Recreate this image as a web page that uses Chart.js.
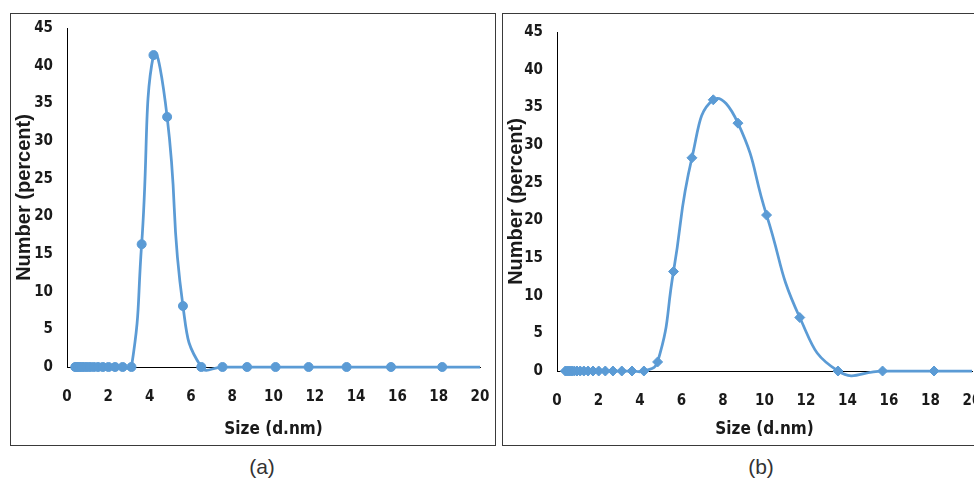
<!DOCTYPE html>
<html>
<head>
<meta charset="utf-8">
<script src="https://cdn.jsdelivr.net/npm/chart.js@4"></script>
<style>
html, body { margin: 0; padding: 0; background: #fff; overflow: hidden; width: 974px; height: 483px; }
.box { position: absolute; top: 13px; width: 484px; height: 431px; border: 1px solid #3a3a3a; }
#boxA { left: 10px; }
#boxB { left: 502px; }
.cap { position: absolute; top: 455px; width: 60px; text-align: center; font: 21px "Liberation Sans", Arial, sans-serif; color: #333; }
</style>
</head>
<body>
<div class="box" id="boxA"><canvas id="chartA" width="484" height="431"></canvas></div>
<div class="box" id="boxB"><canvas id="chartB" width="484" height="431"></canvas></div>
<div class="cap" style="left:232px">(a)</div>
<div class="cap" style="left:731px">(b)</div>
<script>
// size bins (d.nm)
var sizes = [0.4, 0.4632, 0.5365, 0.6213, 0.7195, 0.8332, 0.9649, 1.117, 1.294, 1.499,
  1.736, 2.01, 2.328, 2.696, 3.122, 3.615, 4.187, 4.849, 5.615, 6.503,
  7.531, 8.721, 10.1, 11.7, 13.54, 15.69, 18.17, 21.04];

// number (percent)
var numberA = [0, 0, 0, 0, 0, 0, 0, 0, 0, 0,
  0, 0, 0, 0, 0, 16.3, 41.4, 33.2, 8.1, 0,
  0, 0, 0, 0, 0, 0, 0, 0];
var numberB = [0, 0, 0, 0, 0, 0, 0, 0, 0, 0,
  0, 0, 0, 0, 0, 0, 0, 1.2, 13.2, 28.3,
  36.0, 32.9, 20.7, 7.1, 0, 0, 0, 0];

var xTicks = [0, 2, 4, 6, 8, 10, 12, 14, 16, 18, 20];
var yTicks = [0, 5, 10, 15, 20, 25, 30, 35, 40, 45];

var blue = '#5B9BD5';
var narrow = '"DejaVu Sans", sans-serif';
var tickFont = { family: narrow, size: 15, weight: 'bold condensed' };

function makeChart(id, values, marker, radius, yWidth, xHeight, topPad) {
  var pts = sizes.map(function(s, i) { return { x: s, y: values[i] }; });
  return new Chart(document.getElementById(id).getContext('2d'), {
    type: 'line',
    data: {
      datasets: [{
        data: pts,
        borderColor: blue,
        backgroundColor: blue,
        borderWidth: 2.75,
        pointStyle: marker,
        pointRadius: radius,
        pointBorderWidth: 1,
        pointBorderColor: blue,
        pointBackgroundColor: blue,
        tension: 0.5,
        capBezierPoints: false,
        clip: { left: 10, top: 10, right: 0, bottom: 10 }
      }]
    },
    options: {
      responsive: false,
      animation: false,
      layout: { padding: { top: topPad, right: 15, left: 0, bottom: 0 } },
      plugins: { legend: { display: false }, tooltip: { enabled: false } },
      scales: {
        x: {
          type: 'linear',
          min: 0, max: 20,
          afterBuildTicks: function(s) { s.ticks = xTicks.map(function(v) { return { value: v }; }); },
          afterFit: function(s) { s.height = xHeight; s.paddingLeft = 0; s.paddingRight = 0; },
          grid: { display: false, drawTicks: false },
          border: { display: true, color: '#000', width: 1 },
          ticks: { font: tickFont, color: '#1a1a1a', padding: 21, maxRotation: 0 },
          title: { display: true, text: 'Size (d.nm)', color: '#1a1a1a',
            font: { family: narrow, size: 17, weight: 'bold condensed' },
            padding: { top: 0, bottom: 5 } }
        },
        y: {
          min: 0, max: 45,
          afterBuildTicks: function(s) { s.ticks = yTicks.map(function(v) { return { value: v }; }); },
          afterFit: function(s) { s.width = yWidth; s.paddingTop = 0; s.paddingBottom = 0; },
          grid: { display: false, drawTicks: false },
          border: { display: true, color: '#000', width: 1 },
          ticks: { font: tickFont, color: '#1a1a1a', padding: 14 },
          title: { display: true, text: 'Number (percent)', color: '#1a1a1a',
            font: { family: '"Liberation Sans", Arial, sans-serif', size: 20, weight: 'bold' },
            padding: { top: 1, bottom: 0 } }
        }
      }
    }
  });
}

makeChart('chartA', numberA, 'circle', 4.5, 56, 78, 14);
makeChart('chartB', numberB, 'rectRot', 5, 54, 74, 18);
</script>
</body>
</html>
